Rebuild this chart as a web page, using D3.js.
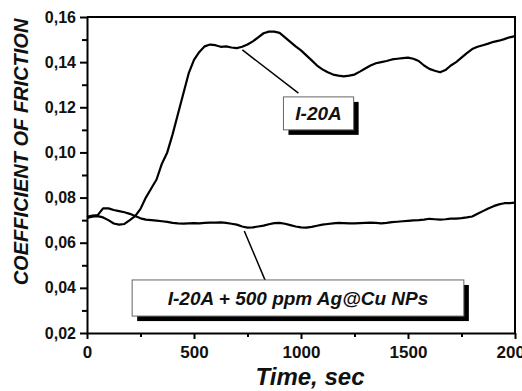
<!DOCTYPE html>
<html>
<head>
<meta charset="utf-8">
<script src="https://cdn.jsdelivr.net/npm/d3@7"></script>
<style>
body { margin: 0; background: #fff; }
text { font-family: "Liberation Sans", Arial, sans-serif; font-weight: bold; }
</style>
</head>
<body>
<div id="chart"></div>
<script>
// time axis (sec), one reading every 25 s
var time = [0,25,50,75,100,125,150,175,200,225,250,275,300,325,350,375,400,425,450,475,
  500,525,550,575,600,625,650,675,700,725,750,775,800,825,850,875,900,925,950,975,
  1000,1025,1050,1075,1100,1125,1150,1175,1200,1225,1250,1275,1300,1325,1350,1375,1400,1425,1450,1475,
  1500,1525,1550,1575,1600,1625,1650,1675,1700,1725,1750,1775,1800,1825,1850,1875,1900,1925,1950,1975,2000];

// base oil I-20A
var cofBase = [0.0710,0.0715,0.0718,0.0712,0.0700,0.0685,0.0680,0.0683,0.0700,0.0718,
  0.0750,0.0800,0.0840,0.0880,0.0950,0.1000,0.1080,0.1170,0.1260,0.1350,
  0.1410,0.1445,0.1470,0.1478,0.1475,0.1468,0.1470,0.1465,0.1462,0.1468,
  0.1478,0.1492,0.1510,0.1528,0.1535,0.1535,0.1530,0.1510,0.1490,0.1470,
  0.1452,0.1430,0.1408,0.1385,0.1368,0.1355,0.1345,0.1340,0.1337,0.1340,
  0.1345,0.1358,0.1372,0.1385,0.1395,0.1400,0.1405,0.1412,0.1415,0.1418,
  0.1420,0.1415,0.1405,0.1385,0.1370,0.1362,0.1355,0.1365,0.1385,0.1400,
  0.1420,0.1440,0.1458,0.1468,0.1475,0.1482,0.1490,0.1495,0.1502,0.1510,0.1515];

// I-20A + 500 ppm Ag@Cu NPs
var cofNP = [0.0715,0.0720,0.0722,0.0752,0.0752,0.0745,0.0740,0.0735,0.0728,0.0718,
  0.0708,0.0702,0.0700,0.0698,0.0695,0.0692,0.0688,0.0686,0.0685,0.0686,
  0.0687,0.0686,0.0688,0.0689,0.0689,0.0690,0.0688,0.0684,0.0680,0.0672,
  0.0667,0.0668,0.0672,0.0676,0.0682,0.0687,0.0688,0.0684,0.0678,0.0672,
  0.0668,0.0667,0.0670,0.0675,0.0680,0.0683,0.0686,0.0688,0.0687,0.0686,
  0.0686,0.0687,0.0688,0.0689,0.0688,0.0686,0.0688,0.0691,0.0693,0.0695,
  0.0697,0.0699,0.0700,0.0702,0.0706,0.0704,0.0702,0.0704,0.0707,0.0707,
  0.0709,0.0712,0.0716,0.0728,0.0740,0.0752,0.0762,0.0770,0.0775,0.0775,0.0778];

var xTicks = [0,500,1000,1500,2000];
var xMinor = [250,750,1250,1750];
var yTicks = [0.02,0.04,0.06,0.08,0.10,0.12,0.14,0.16];
var yMinor = [0.03,0.05,0.07,0.09,0.11,0.13,0.15];

// label boxes: [t0, cof top, t1, cof bottom], arrows: [t from, cof from, t to, cof to]
var labels = ["I-20A", "I-20A + 500 ppm Ag@Cu NPs"];
var labelBoxes = [[918,0.1246,1246,0.1100],[211,0.0435,1761,0.0275]];
var arrows = [[726,0.1454,988,0.1263],[735,0.0652,834,0.0430]];

var w = 522, h = 391;
var margin = {left: 87, right: 7, top: 17, bottom: 58};

var svg = d3.select("#chart").append("svg")
  .attr("width", w)
  .attr("height", h);

var x = d3.scaleLinear().domain([0,2000]).range([margin.left, w - margin.right]);
var y = d3.scaleLinear().domain([0.02,0.16]).range([h - margin.bottom, margin.top]);

var fmt = function(d) { return d3.format(".2f")(d).replace(".", ","); };

// minor ticks first
svg.append("g")
  .attr("transform", "translate(0," + y(0.02) + ")")
  .call(d3.axisBottom(x).tickValues(xMinor).tickSize(4).tickFormat(""))
  .call(function(g) { g.select(".domain").remove(); })
  .selectAll("line").attr("stroke-width", 2);

svg.append("g")
  .attr("transform", "translate(" + x(0) + ",0)")
  .call(d3.axisLeft(y).tickValues(yMinor).tickSize(5).tickFormat(""))
  .call(function(g) { g.select(".domain").remove(); })
  .selectAll("line").attr("stroke-width", 2);

// major axes
var xAxis = svg.append("g")
  .attr("transform", "translate(0," + y(0.02) + ")")
  .call(d3.axisBottom(x).tickValues(xTicks).tickFormat(d3.format("d")).tickSize(6).tickSizeOuter(0).tickPadding(7));
xAxis.select(".domain").attr("stroke-width", 2);
xAxis.selectAll("line").attr("stroke-width", 2);
xAxis.selectAll("text").attr("font-size", "17px").attr("fill", "#111");

var yAxis = svg.append("g")
  .attr("transform", "translate(" + x(0) + ",0)")
  .call(d3.axisLeft(y).tickValues(yTicks).tickFormat(fmt).tickSize(7).tickSizeOuter(0).tickPadding(4));
yAxis.select(".domain").attr("stroke-width", 2);
yAxis.selectAll("line").attr("stroke-width", 2);
yAxis.selectAll("text").attr("font-size", "16px").attr("fill", "#111");

// top and right frame
svg.append("path")
  .attr("d", "M" + x(0) + "," + y(0.16) + "H" + x(2000) + "V" + y(0.02))
  .attr("fill", "none")
  .attr("stroke", "#000")
  .attr("stroke-width", 2);

// curves
var line = d3.line()
  .x(function(d, i) { return x(time[i]); })
  .y(function(d) { return y(d); });

[cofBase, cofNP].forEach(function(s) {
  svg.append("path")
    .datum(s)
    .attr("d", line)
    .attr("fill", "none")
    .attr("stroke", "#000")
    .attr("stroke-width", 2.2)
    .attr("stroke-linejoin", "round");
});

// arrows to the labels
svg.selectAll(".arrow")
  .data(arrows)
  .enter()
  .append("line")
  .attr("class", "arrow")
  .attr("x1", function(d) { return x(d[0]); })
  .attr("y1", function(d) { return y(d[1]); })
  .attr("x2", function(d) { return x(d[2]); })
  .attr("y2", function(d) { return y(d[3]); })
  .attr("stroke", "#000")
  .attr("stroke-width", 1.5);

// label boxes with drop shadow
labelBoxes.forEach(function(b, i) {
  var bx = x(b[0]), by = y(b[1]), bw = x(b[2]) - x(b[0]), bh = y(b[3]) - y(b[1]);
  svg.append("rect")
    .attr("x", bx + 5).attr("y", by + 5)
    .attr("width", bw).attr("height", bh)
    .attr("fill", "#000");
  svg.append("rect")
    .attr("x", bx).attr("y", by)
    .attr("width", bw).attr("height", bh)
    .attr("fill", "#fff")
    .attr("stroke", "#666")
    .attr("stroke-width", 1);
  svg.append("text")
    .attr("x", bx + bw / 2)
    .attr("y", by + bh / 2 + 7)
    .attr("text-anchor", "middle")
    .attr("font-size", "19px")
    .attr("font-style", "italic")
    .attr("fill", "#111")
    .text(labels[i]);
});

// axis titles
svg.append("text")
  .attr("transform", "translate(28,152) rotate(-90)")
  .attr("text-anchor", "middle")
  .attr("font-size", "20px")
  .attr("font-style", "italic")
  .attr("fill", "#111")
  .text("COEFFICIENT OF FRICTION");

svg.append("text")
  .attr("x", 310)
  .attr("y", 385)
  .attr("text-anchor", "middle")
  .attr("font-size", "24px")
  .attr("font-style", "italic")
  .attr("fill", "#111")
  .text("Time, sec");
</script>
</body>
</html>
